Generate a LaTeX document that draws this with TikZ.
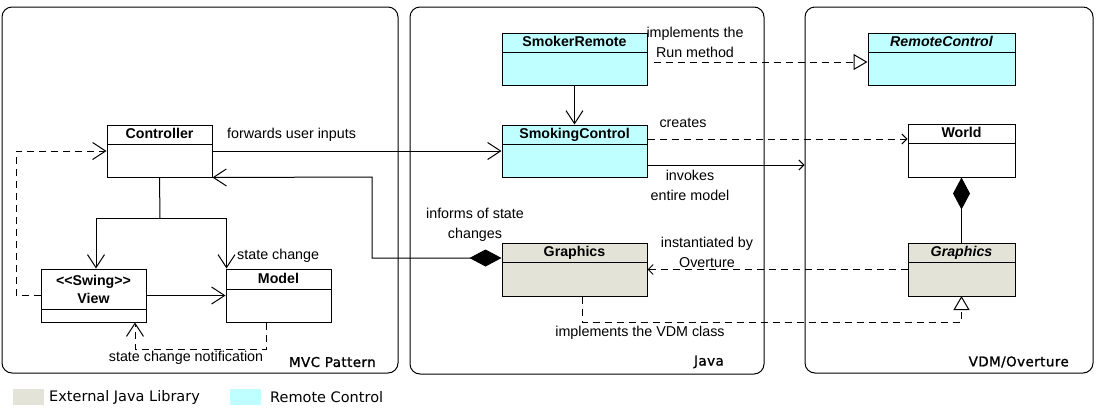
\documentclass[tikz,border=0pt]{standalone}
\usepackage{fontspec}
\setmainfont{Liberation Sans}
\newfontfamily\vfont{DejaVu Sans}
\newfontfamily\gfont[FakeBold=1.2,LetterSpace=3]{DejaVu Sans}
\usetikzlibrary{arrows.meta}
\definecolor{rcyan}{HTML}{C0FFFF}
\definecolor{extgray}{HTML}{E3E3D8}
% #1 name, #2 x1, #3 y1, #4 x2, #5 y2, #6 header y, #7 fill, #8 text, #9 text style
\newcommand{\umlclass}[9]{%
  \node[clsbox, fill=#7, minimum width={#4-#2}, minimum height={#5-#3}] (#1) at ({(#2+#4)/2},{(#3+#5)/2}) {};
  \draw[boxln] (#2,#6) -- (#4,#6);
  \node[#9] (#1t) at ({(#2+#4)/2},{(#3+#6)/2}) {#8};
}
\begin{document}
\begin{tikzpicture}[x=1pt,y=-1pt,
  clsbox/.style={draw, line width=1pt, inner sep=0pt, rectangle},
  boxln/.style={line width=1pt},
  cont/.style={draw, line width=1pt, rounded corners=10pt, inner sep=0pt},
  ttl/.style={font=\fontsize{14.2}{16}\selectfont\bfseries, inner sep=0pt, text height=10pt, text depth=2pt},
  ttli/.style={font=\fontsize{14.2}{16}\selectfont\bfseries\itshape, inner sep=0pt, text height=10pt, text depth=2pt},
  ttlv/.style={font=\fontsize{14.2}{18}\selectfont\bfseries, inner sep=0pt, align=center},
  lbl/.style={font=\fontsize{14.3}{20}\selectfont, inner sep=0pt, align=center},
  grp/.style={font=\gfont\fontsize{13.5}{16}\selectfont, inner sep=0pt},
  leg/.style={font=\vfont\fontsize{14.5}{16}\selectfont, inner sep=0pt},
  ln/.style={line width=1pt},
  dsh/.style={line width=1pt, dash pattern=on 7pt off 5pt},
  arr/.style={arrows={-Straight Barb[length=13pt,width=17pt]}},
  sarr/.style={arrows={-Straight Barb[length=5pt,width=10pt]}},
  tri/.style={arrows={-Triangle[open,length=14pt,width=16pt]}},
  diaarr/.style={arrows={Diamond[length=32pt,width=17pt]-Straight Barb[length=13pt,width=17pt]}},
  dia/.style={arrows={Diamond[length=32pt,width=17pt]-}}
]
\useasboundingbox (0,0) rectangle (1100,416);

% containers
\node[cont, minimum width=396, minimum height=366] (mvc) at (200,190) {};
\node[cont, minimum width=354, minimum height=367] (java) at (587,190.5) {};
\node[cont, minimum width=288, minimum height=366] (vdm) at (949,190) {};
\node[grp, anchor=east] (mvct) at (376,362) {MVC Pattern};
\node[grp, anchor=east] (javat) at (724,362) {Java};
\node[grp, anchor=east] (vdmt) at (1069,362) {VDM/Overture};

% MVC classes
\umlclass{ctrl}{107}{125}{212}{177}{144}{white}{Controller}{ttl}
\umlclass{view}{41}{269}{146}{322}{309}{white}{{<}{<}Swing{>}{>}\\View}{ttlv}
\umlclass{model}{226}{269}{331}{322}{289}{white}{Model}{ttl}

% Java classes
\umlclass{sr}{502}{33}{647}{85}{52}{rcyan}{SmokerRemote}{ttl}
\umlclass{sc}{502}{125}{647}{177}{144}{rcyan}{SmokingControl}{ttl}
\umlclass{gj}{502}{243}{647}{296}{262}{extgray}{Graphics}{ttl}

% VDM classes
\umlclass{rc}{868}{33}{1015}{85}{52}{rcyan}{RemoteControl}{ttli}
\umlclass{world}{908}{124}{1015}{177}{143}{white}{World}{ttl}
\umlclass{gv}{908}{243}{1015}{296}{262}{extgray}{Graphics}{ttli}

% MVC connectors
\coordinate (junc) at (160,218);
\draw[ln] (ctrl.south) -- (junc);
\draw[ln, arr] (junc) -| ([xshift=2.5pt]view.north);
\draw[ln, arr] (junc) -| ([xshift=1pt]model.north west);
\draw[ln, arr] (view.east) -- (model.west);
\coordinate (lft) at (16,151);
\draw[dsh, arr] (view.west) -| (lft) -- (ctrl.west);
\coordinate (nb) at (135,349);
\draw[dsh, arr] ([xshift=-12.5pt]model.south) |- (nb) -- ([xshift=41.5pt]view.south);

% cross connectors
\draw[ln, arr] (ctrl.east) -- (sc.west);
\coordinate (bend) at (372,177);
\draw[ln, diaarr] ([yshift=11.5pt]gj.west) -| (bend) -- (ctrl.south east);

% Java connectors
\draw[ln, arr] (sr.south) -- (sc.north);
\draw[dsh, tri] ([xshift=6pt,yshift=-3pt]sr.east) -- ([yshift=-3pt]rc.west);
\draw[dsh, sarr] ([yshift=12pt]sc.east) -- ([yshift=12pt]sc.east -| world.west);
\draw[ln, sarr] ([yshift=-14pt]sc.east) -- ([yshift=-14pt]sc.east -| vdm.west);
\draw[dsh, sarr] (gv.west) -- (gv.west -| gj.east);
\coordinate (vb) at (582,322);
\draw[dsh, tri] ([xshift=7.5pt]gj.south) |- (vb -| gv.south) -- ([yshift=0.5pt]gv.south);

% VDM connectors
\draw[ln, dia] (world.south) -- (gv.north);

% labels
\node[lbl, anchor=west] (lfwd) at (227,135) {forwards user inputs};
\node[lbl, anchor=west] (lstc) at (237,256) {state change};
\node[lbl] (lscn) at (186,358) {state change notification};
\node[lbl] (lrun) at (695,42) {implements the\\Run method};
\node[lbl] (lcre) at (683,123) {creates};
\node[lbl] (linv) at (690,185) {invokes\\entire model};
\node[lbl] (linf) at (475,225) {informs of state\\changes};
\node[lbl] (lins) at (707,252) {instantiated by\\Overture};
\node[lbl] (lvdm) at (640,333) {implements the VDM class};

% legend
\node[fill=extgray, minimum width=31, minimum height=16, inner sep=0pt] (lg1) at (28.5,397) {};
\node[leg, anchor=west] (lg1t) at (49,397) {External Java Library};
\node[fill=rcyan, minimum width=31, minimum height=16, inner sep=0pt] (lg2) at (245.5,397) {};
\node[leg, anchor=west] (lg2t) at (270,397) {Remote Control};
\end{tikzpicture}
\end{document}
